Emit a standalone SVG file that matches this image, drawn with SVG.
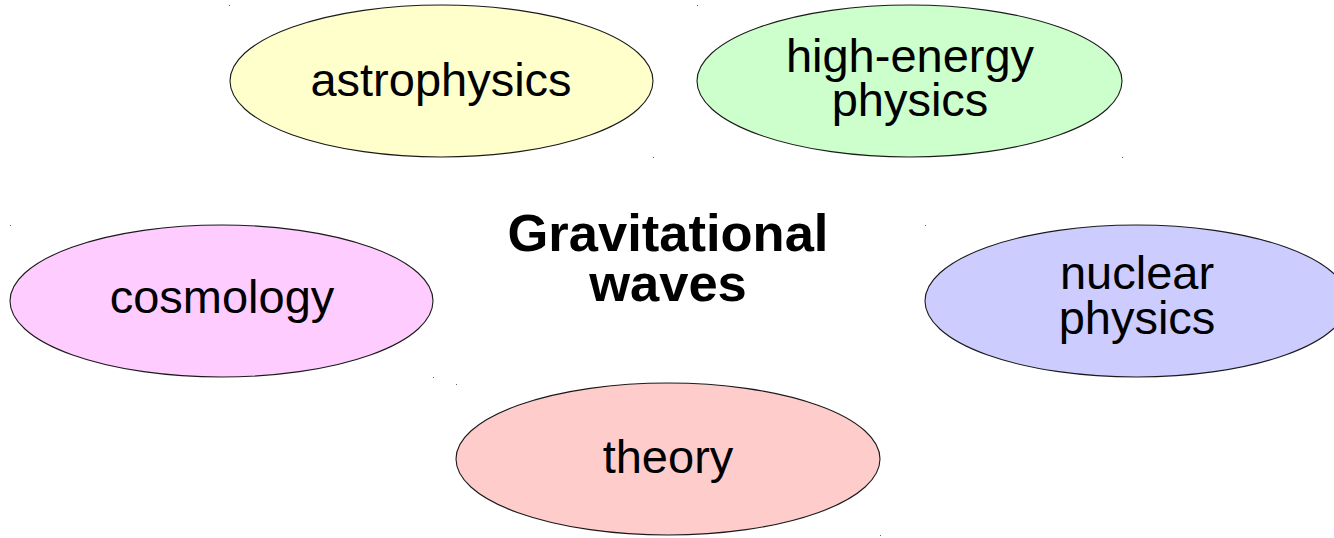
<svg xmlns="http://www.w3.org/2000/svg" width="1334" height="538" viewBox="0 0 1334 538">
<style>
.n{stroke:#1a1a1a;stroke-width:1.1}
.t{font-family:"Liberation Sans",Arial,sans-serif;font-size:47px;fill:#000;text-anchor:middle}
.c{font-family:"Liberation Sans",Arial,sans-serif;font-size:52.5px;font-weight:bold;fill:#000;text-anchor:middle}
.d{fill:#666}
</style>
<rect width="1334" height="538" fill="#fff"/>
<g id="marks">
<rect class="d" x="229" y="5" width="1" height="1"/>
<rect class="d" x="653" y="157" width="1" height="1"/>
<rect class="d" x="697" y="5" width="1" height="1"/>
<rect class="d" x="1122" y="157" width="1" height="1"/>
<rect class="d" x="10" y="225" width="1" height="1"/>
<rect class="d" x="433" y="377" width="1" height="1"/>
<rect class="d" x="925" y="225" width="1" height="1"/>
<rect class="d" x="456" y="384" width="1" height="1"/>
<rect class="d" x="880" y="535" width="1" height="1"/>
</g>
<g id="connectors"></g>
<g id="astrophysics">
<ellipse class="n" cx="441.5" cy="81" rx="211.5" ry="76" fill="#ffffcc"/>
<text class="t" x="441" y="96">astrophysics</text>
</g>
<g id="high-energy-physics">
<ellipse class="n" cx="909.5" cy="81" rx="212.5" ry="76" fill="#ccffcc"/>
<text class="t" x="910" y="72">high-energy</text>
<text class="t" x="910" y="116">physics</text>
</g>
<g id="center">
<text class="c" x="668" y="251">Gravitational</text>
<text class="c" x="668" y="301">waves</text>
</g>
<g id="cosmology">
<ellipse class="n" cx="221.5" cy="301" rx="211.5" ry="76" fill="#ffccff"/>
<text class="t" x="222" y="313">cosmology</text>
</g>
<g id="nuclear-physics">
<ellipse class="n" cx="1136.5" cy="301" rx="211.5" ry="76" fill="#ccccff"/>
<text class="t" x="1137" y="289">nuclear</text>
<text class="t" x="1137" y="334">physics</text>
</g>
<g id="theory">
<ellipse class="n" cx="668" cy="459" rx="212" ry="76" fill="#ffcccc"/>
<text class="t" x="668" y="473">theory</text>
</g>
</svg>
